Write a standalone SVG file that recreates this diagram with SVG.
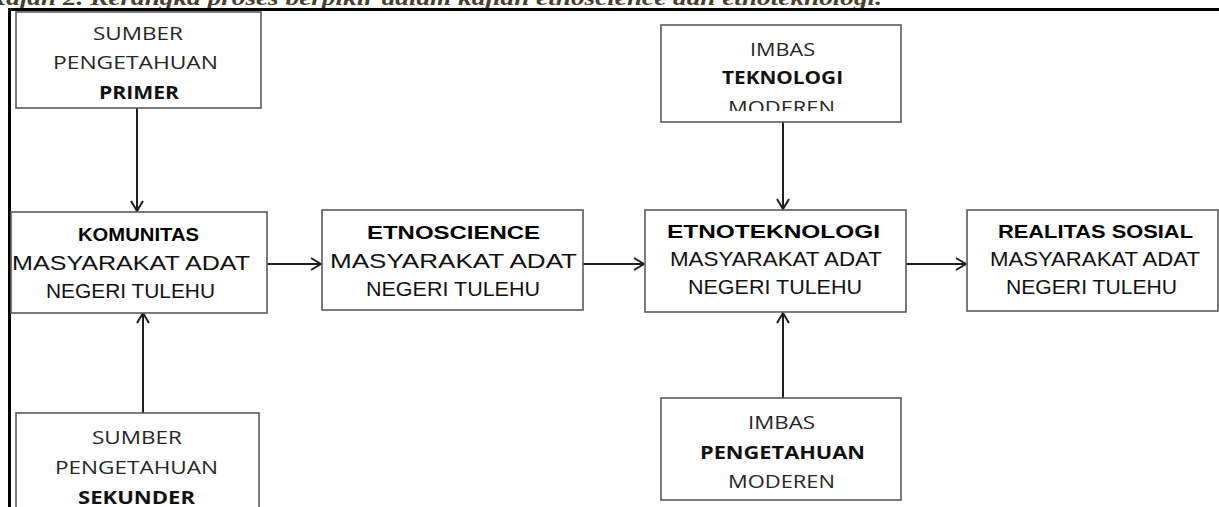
<svg xmlns="http://www.w3.org/2000/svg" width="1219" height="507" viewBox="0 0 1219 507">
<style>
.box{fill:#fff;stroke:#5a5a5a;stroke-width:1.6}
.conn{fill:none;stroke:#1e1e1e;stroke-width:2}
.t{font-family:"Liberation Sans",Arial,sans-serif;font-size:21px;fill:#111}
.tb{font-family:"Liberation Sans",Arial,sans-serif;font-size:19px;font-weight:bold;fill:#000}
.g{font-family:"Open Sans","Liberation Sans",sans-serif;font-size:18px;fill:#262626}
.gb{font-family:"Open Sans","Liberation Sans",sans-serif;font-size:18px;font-weight:bold;fill:#111}
.title{font-family:"Liberation Serif","Times New Roman",serif;font-size:20px;font-weight:bold;font-style:italic;fill:#4a3f2e}
</style>
<defs>
<marker id="arr" viewBox="0 0 12 14" refX="11" refY="7" markerWidth="12" markerHeight="14" markerUnits="userSpaceOnUse" orient="auto">
<path d="M1,1 L11,7 L1,13" fill="none" stroke="#1e1e1e" stroke-width="2"/>
</marker>
<clipPath id="clipM"><rect x="661" y="25" width="240" height="86"/></clipPath>
</defs>
<rect width="1219" height="507" fill="#fff"/>
<text class="title" x="-12" y="5" textLength="894" lengthAdjust="spacingAndGlyphs">Rajah 2. Kerangka proses berpikir dalam kajian etnoscience dan etnoteknologi.</text>
<g id="frame">
<line x1="8" y1="9.5" x2="1219" y2="9.5" stroke="#000" stroke-width="3"/>
<line x1="9.5" y1="8" x2="9.5" y2="507" stroke="#000" stroke-width="3"/>
</g>
<g id="connectors">
<line class="conn" x1="137" y1="108" x2="137" y2="211" marker-end="url(#arr)"/>
<line class="conn" x1="143" y1="413" x2="143" y2="313" marker-end="url(#arr)"/>
<line class="conn" x1="267" y1="264" x2="321" y2="264" marker-end="url(#arr)"/>
<line class="conn" x1="583" y1="264" x2="644" y2="264" marker-end="url(#arr)"/>
<line class="conn" x1="906" y1="264" x2="966" y2="264" marker-end="url(#arr)"/>
<line class="conn" x1="783" y1="122" x2="783" y2="209" marker-end="url(#arr)"/>
<line class="conn" x1="783" y1="398" x2="783" y2="313" marker-end="url(#arr)"/>
</g>
<g id="sumber-primer">
<rect class="box" x="16" y="12" width="245" height="96"/>
<text class="g" x="93" y="40" textLength="90" lengthAdjust="spacingAndGlyphs">SUMBER</text>
<text class="g" x="53" y="69" textLength="165" lengthAdjust="spacingAndGlyphs">PENGETAHUAN</text>
<text class="gb" x="99" y="99" textLength="80" lengthAdjust="spacingAndGlyphs">PRIMER</text>
</g>
<g id="komunitas">
<rect class="box" x="11" y="212" width="256" height="101"/>
<text class="tb" x="78" y="241" textLength="121" lengthAdjust="spacingAndGlyphs">KOMUNITAS</text>
<text class="t" x="12" y="270" textLength="238" lengthAdjust="spacingAndGlyphs">MASYARAKAT ADAT</text>
<text class="t" x="46" y="298" textLength="169" lengthAdjust="spacingAndGlyphs">NEGERI TULEHU</text>
</g>
<g id="etnoscience">
<rect class="box" x="322" y="210" width="261" height="100"/>
<text class="tb" x="367" y="239" textLength="173" lengthAdjust="spacingAndGlyphs">ETNOSCIENCE</text>
<text class="t" x="330" y="268" textLength="247" lengthAdjust="spacingAndGlyphs">MASYARAKAT ADAT</text>
<text class="t" x="366" y="296" textLength="174" lengthAdjust="spacingAndGlyphs">NEGERI TULEHU</text>
</g>
<g id="etnoteknologi">
<rect class="box" x="645" y="210" width="261" height="102"/>
<text class="tb" x="667" y="238" textLength="213" lengthAdjust="spacingAndGlyphs">ETNOTEKNOLOGI</text>
<text class="t" x="670" y="266" textLength="212" lengthAdjust="spacingAndGlyphs">MASYARAKAT ADAT</text>
<text class="t" x="688" y="294" textLength="174" lengthAdjust="spacingAndGlyphs">NEGERI TULEHU</text>
</g>
<g id="realitas-sosial">
<rect class="box" x="967" y="210" width="251" height="101"/>
<text class="tb" x="998" y="238" textLength="195" lengthAdjust="spacingAndGlyphs">REALITAS SOSIAL</text>
<text class="t" x="990" y="266" textLength="210" lengthAdjust="spacingAndGlyphs">MASYARAKAT ADAT</text>
<text class="t" x="1006" y="294" textLength="171" lengthAdjust="spacingAndGlyphs">NEGERI TULEHU</text>
</g>
<g id="imbas-teknologi">
<rect class="box" x="661" y="25" width="240" height="97"/>
<text class="g" x="750" y="56" textLength="65" lengthAdjust="spacingAndGlyphs">IMBAS</text>
<text class="gb" x="722" y="84" textLength="121" lengthAdjust="spacingAndGlyphs">TEKNOLOGI</text>
<text class="g" x="728" y="114" textLength="107" lengthAdjust="spacingAndGlyphs" clip-path="url(#clipM)">MODEREN</text>
</g>
<g id="imbas-pengetahuan">
<rect class="box" x="661" y="398" width="240" height="102"/>
<text class="g" x="748" y="429" textLength="67" lengthAdjust="spacingAndGlyphs">IMBAS</text>
<text class="gb" x="700" y="459" textLength="165" lengthAdjust="spacingAndGlyphs">PENGETAHUAN</text>
<text class="g" x="728" y="488" textLength="107" lengthAdjust="spacingAndGlyphs">MODEREN</text>
</g>
<g id="sumber-sekunder">
<rect class="box" x="16" y="413" width="243" height="100"/>
<text class="g" x="92" y="444" textLength="90" lengthAdjust="spacingAndGlyphs">SUMBER</text>
<text class="g" x="55" y="474" textLength="163" lengthAdjust="spacingAndGlyphs">PENGETAHUAN</text>
<text class="gb" x="78" y="504" textLength="117" lengthAdjust="spacingAndGlyphs">SEKUNDER</text>
</g>
</svg>
